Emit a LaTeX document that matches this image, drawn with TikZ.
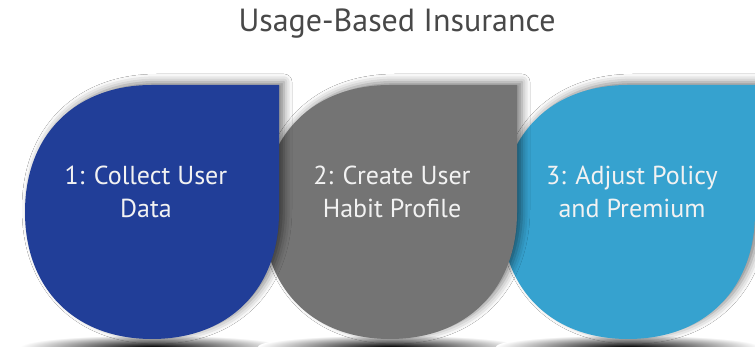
\documentclass[tikz,border=0pt]{standalone}
\usepackage{fontspec}
\setmainfont{PT Sans}
\usepackage{tikz}
\usetikzlibrary{shadows.blur}

\definecolor{collectblue}{RGB}{33,62,152}
\definecolor{profilegray}{RGB}{116,116,116}
\definecolor{premiumblue}{RGB}{54,162,207}
\definecolor{headgray}{RGB}{72,72,72}

\begin{document}
\begin{tikzpicture}[
  x=1pt, y=1pt,
  drop/.pic={
    \path[fill=#1, blur shadow={shadow xshift=5pt, shadow yshift=3pt, shadow blur radius=8pt, shadow opacity=50}]
      (0,127) -- (127,127) -- (127,0)
      .. controls (127,-77) and (77,-127) .. (0,-127)
      .. controls (-77,-127) and (-127,-77) .. (-127,0)
      .. controls (-127,77) and (-77,127) .. (0,127) -- cycle;
  },
  floor/.style={inner color=black, outer color=white},
  stepname/.style={text=white!95!black, align=center, font=\fontsize{26}{33}\selectfont},
  heading/.style={text=headgray, font=\fontsize{32}{38}\selectfont}
]
\useasboundingbox[fill=white] (0,0) rectangle (755,347);
\node[heading] (ubi) at (397,323) {Usage-Based Insurance};

% floor shadows under the three drops
\shade[floor] (152,0) ellipse (132 and 12);
\shade[floor] (390,0) ellipse (132 and 12);
\shade[floor] (628,0) ellipse (132 and 12);

% back to front
\pic (premium) at (628,135) {drop=premiumblue};
\pic (profile) at (390,135) {drop=profilegray};
\pic (collect) at (152,135) {drop=collectblue};

\node[stepname] (collecttext) at (146,155) {1: Collect User\\Data};
\node[stepname] (profiletext) at (392,155) {2: Create User\\Habit Profile};
\node[stepname] (premiumtext) at (632,155) {3: Adjust Policy\\and Premium};
\end{tikzpicture}
\end{document}
